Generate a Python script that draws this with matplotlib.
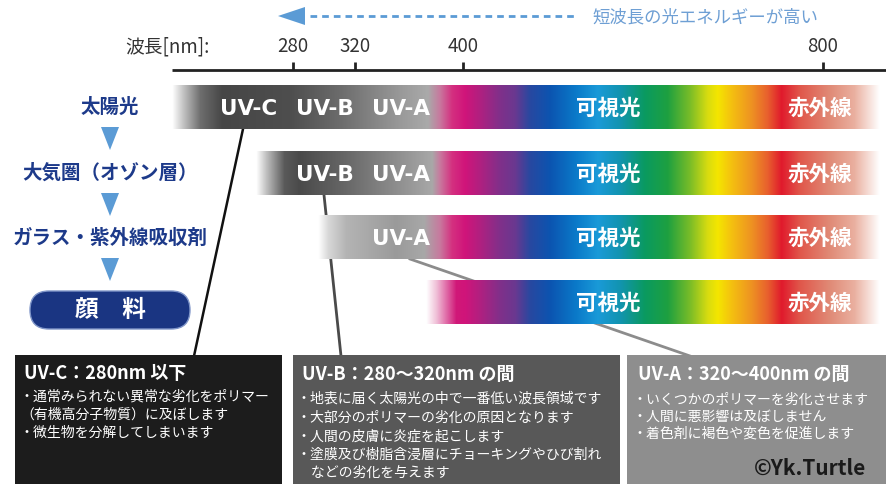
import numpy as np
import matplotlib
matplotlib.use('Agg')
import matplotlib.pyplot as plt
from matplotlib.colors import to_rgb
from matplotlib.patches import Rectangle, FancyBboxPatch, Polygon

plt.rcParams['font.family'] = ['Noto Sans CJK JP', 'DejaVu Sans']

# ----------------------------------------------------------------
# Dados: espectro solar e filtros
# ----------------------------------------------------------------
tick_nm = [280, 320, 400, 800]
row_labels = ['太陽光', '大気圏（オゾン層）', 'ガラス・紫外線吸収剤', '顔　料']
row_cut_nm = [None, 280, 320, 400]
row_bands = [['UV-C', 'UV-B', 'UV-A'], ['UV-B', 'UV-A'], ['UV-A'], []]

box_titles = ['UV-C：280nm 以下', 'UV-B：280〜320nm の間', 'UV-A：320〜400nm の間']
box_lines = [
    ['・通常みられない異常な劣化をポリマー', '（有機高分子物質）に及ぼします', '・微生物を分解してしまいます'],
    ['・地表に届く太陽光の中で一番低い波長領域です', '・大部分のポリマーの劣化の原因となります',
     '・人間の皮膚に炎症を起こします', '・塗膜及び樹脂含浸層にチョーキングやひび割れ', '　などの劣化を与えます'],
    ['・いくつかのポリマーを劣化させます', '・人間に悪影響は及ぼしません', '・着色剤に褐色や変色を促進します'],
]

# ----------------------------------------------------------------
# Layout (pixel coordinates)
# ----------------------------------------------------------------
W, H = 886, 485
axis_px = [293, 355, 463, 823]          # posição dos ticks no eixo não linear
def nm_to_px(nm):
    return np.interp(nm, tick_nm, axis_px)

axis_left, axis_y = 172, 71
row_y = [108, 174, 238, 303]
bar_h = 44
band_x = {'UV-C': 249, 'UV-B': 325, 'UV-A': 401}
navy = '#1d3a8a'
tri_blue = '#5b9bd5'

lead_stops = [
    [(172, '#ffffff'), (182, '#c8c8c8'), (200, '#6e6e6e'), (222, '#464646'), (290, '#4e4e4e'),
     (340, '#6c6c6c'), (400, '#999999'), (428, '#aaaaaa')],
    [(0, '#ffffff'), (10, '#c0c0c0'), (28, '#5a5a5a'), (43, '#4a4a4a'), (88, '#666666'),
     (138, '#8c8c8c'), (176, '#a8a8a8')],
    [(0, '#ffffff'), (10, '#d8d8d8'), (28, '#b4b4b4'), (78, '#9a9a9a'), (106, '#a8a8a8')],
    [(0, '#ffffff'), (10, '#f0c0d8'), (30, '#d01878')],
]
spectrum = [(440, '#c8789e'), (452, '#d43080'), (465, '#d0147a'), (480, '#b02080'), (500, '#80308a'),
            (515, '#6a3890'), (530, '#2848a0'), (550, '#0c54b0'), (575, '#0a78c8'), (598, '#1a9ad8'),
            (620, '#1294b0'), (645, '#0a9a60'), (668, '#1ea040'), (690, '#78bc28'), (708, '#d8dc10'),
            (718, '#f4e600'), (732, '#f4c010'), (752, '#ee9222'), (768, '#e8602e'), (782, '#e01a2c'),
            (800, '#e0564a'), (830, '#e08a76'), (855, '#eab0a0'), (880, '#ffffff'), (886, '#ffffff')]

fig = plt.figure(figsize=(W / 100, H / 100), dpi=100)
ax = fig.add_axes([0, 0, 1, 1])
ax.set_xlim(0, W)
ax.set_ylim(H, 0)
ax.axis('off')

# ---- top arrow + caption
ax.plot([310, 578], [17, 17], color=tri_blue, lw=2, dashes=(2.4, 1.8), zorder=3)
ax.add_patch(Polygon([(278, 17), (305, 8), (305, 26)], closed=True, fc=tri_blue, ec='none', zorder=3))
ax.text(592, 17, '短波長の光エネルギーが高い', color='#6e9fd4', fontsize=12.5, ha='left', va='center')

# ---- wavelength axis
ax.text(125, 47, '波長[nm]:', color='#333333', fontsize=13.5, ha='left', va='center')
ax.plot([axis_left, W], [axis_y, axis_y], color='#222222', lw=2, zorder=3, solid_capstyle='butt')
for nm in tick_nm:
    x = nm_to_px(nm)
    ax.plot([x, x], [63, axis_y], color='#222222', lw=2, zorder=3, solid_capstyle='butt')
    ax.text(x, 47, str(nm), color='#333333', fontsize=13.5, ha='center', va='center')

# ---- spectrum bars
for i, (cut, y) in enumerate(zip(row_cut_nm, row_y)):
    x0 = axis_left if cut is None else nm_to_px(cut) - 37
    if cut is None:
        lead = lead_stops[i]
    else:
        lead = [(x0 + dx, c) for dx, c in lead_stops[i]]
    stops = lead + [s for s in spectrum if s[0] > lead[-1][0]]
    pos = [p for p, _ in stops]
    cols = np.array([to_rgb(c) for _, c in stops])
    xs = np.arange(x0, W + 1)
    img = np.stack([np.interp(xs, pos, cols[:, k]) for k in range(3)], axis=-1)[None, :, :]
    ax.imshow(img, extent=[x0, W, y + bar_h / 2, y - bar_h / 2], aspect='auto',
              interpolation='bilinear', zorder=2)
    for b in row_bands[i]:
        ax.text(band_x[b], y + 1, b, color='white', fontsize=15.5, fontweight='bold',
                ha='center', va='center', family=['DejaVu Sans'], zorder=4)
    ax.text(608, y, '可視光', color='white', fontsize=15.5, fontweight='bold',
            ha='center', va='center', zorder=4)
    ax.text(820, y, '赤外線', color='white', fontsize=15.5, fontweight='bold',
            ha='center', va='center', zorder=4)

# ---- left flow labels
for i, (lab, y) in enumerate(zip(row_labels, [107, 173, 238, 310])):
    if i < 3:
        ax.text(110, y, lab, color=navy, fontsize=14, fontweight='bold', ha='center', va='center')
        ty = [128, 194, 259][i]
        ax.add_patch(Polygon([(101, ty), (119, ty), (110, ty + 23)], closed=True,
                             fc=tri_blue, ec='none'))
    else:
        # pílula: caixa de altura zero com pad = raio
        ax.add_patch(FancyBboxPatch((49, 311), 122, 0,
                                    boxstyle='round,pad=19',
                                    fc='#1a3582', ec='#7f95c8', lw=1))
        ax.text(110, y, lab, color='white', fontsize=17, fontweight='bold', ha='center', va='center')

# ---- leader lines
ax.plot([243, 194], [130, 357], color='#111111', lw=1.8, zorder=1)
ax.plot([324, 341], [196, 357], color='#4a4a4a', lw=2, zorder=1)
ax.plot([410, 690], [260, 357], color='#8c8c8c', lw=2, zorder=1)

# ---- description boxes
box_x = [(15, 282), (293, 620), (627, W)]
box_fc = ['#1c1c1c', '#585858', '#8e8e8e']
title_x = [24, 302, 638]
line_x = [20, 297, 633]
line_y = [[397, 415, 433], [399, 418, 437, 455, 473], [400, 417, 434]]
for k in range(3):
    x0, x1 = box_x[k]
    ax.add_patch(Rectangle((x0, 356), x1 - x0, H - 356, fc=box_fc[k], ec='none', zorder=2))
    ax.text(title_x[k], 374, box_titles[k], color='white', fontsize=13, fontweight='bold',
            ha='left', va='center', zorder=3)
    for t, ly in zip(box_lines[k], line_y[k]):
        ax.text(line_x[k], ly, t, color='white', fontsize=10, ha='left', va='center', zorder=3)
ax.text(866, 468, '©Yk.Turtle', color='#1a1a1a', fontsize=15, fontweight='bold',
        ha='right', va='center', zorder=3)

fig.savefig('out.png', dpi=100)
plt.close(fig)
